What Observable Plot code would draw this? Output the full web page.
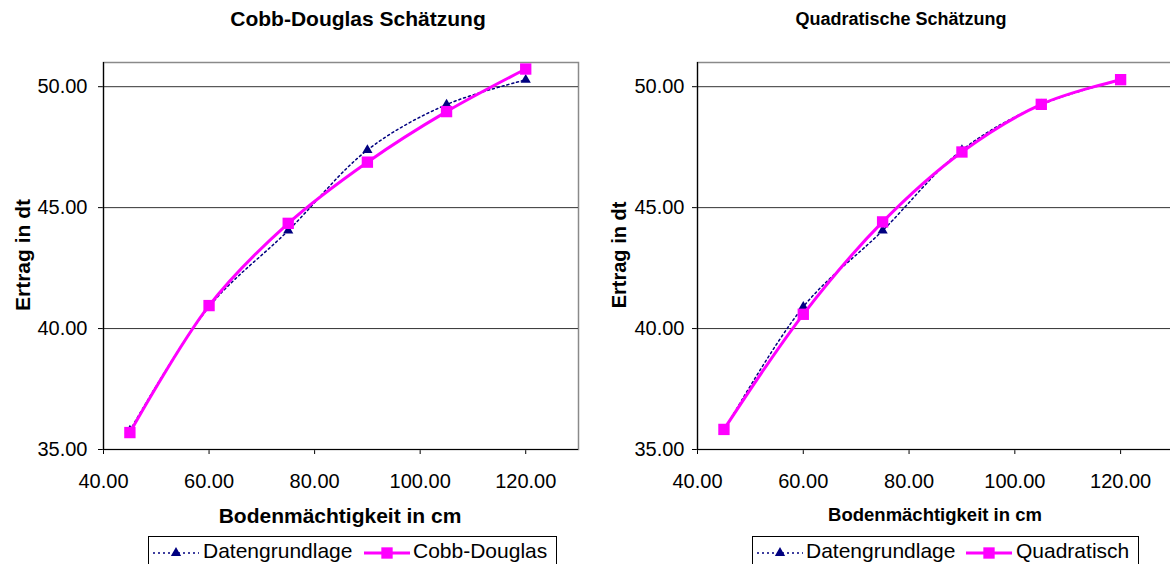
<!DOCTYPE html>
<html>
<head>
<meta charset="utf-8">
<script src="https://cdn.jsdelivr.net/npm/d3@7"></script>
<script src="https://cdn.jsdelivr.net/npm/@observablehq/plot@0.6"></script>
<style>
  body { margin: 0; background: #fff; }
  #page {
    position: relative; width: 1170px; height: 564px; overflow: hidden;
    font-family: "Liberation Sans", Arial, sans-serif; color: #000; background: #fff;
  }
  .abs { position: absolute; white-space: nowrap; line-height: 1; }
  .bold { font-weight: bold; }
  .chart { position: absolute; top: 0; }
  .legend {
    position: absolute; top: 536px; height: 44px; border: 1px solid #000;
    background: #fff; box-sizing: border-box;
  }
  .legend .item { position: absolute; top: 3px; font-size: 21px; line-height: 1; white-space: nowrap; }
  .legend svg { position: absolute; top: 6px; }
</style>
</head>
<body>
<div id="page">
  <div class="abs bold" style="left:358px;top:8px;font-size:21px;transform:translateX(-50%)">Cobb-Douglas Schätzung</div>
  <div class="abs bold" style="left:901px;top:10px;font-size:18px;transform:translateX(-50%)">Quadratische Schätzung</div>

  <div id="left" class="chart" style="left:0px;width:585px"></div>
  <div id="right" class="chart" style="left:585px;width:590px"></div>

  <div class="abs bold" style="left:22px;top:255px;font-size:21px;transform:translate(-50%,-50%) rotate(-90deg)">Ertrag in dt</div>
  <div class="abs bold" style="left:619px;top:255px;font-size:20px;transform:translate(-50%,-50%) rotate(-90deg)">Ertrag in dt</div>

  <div class="abs bold" style="left:340px;top:505px;font-size:21px;transform:translateX(-50%)">Bodenmächtigkeit in cm</div>
  <div class="abs bold" style="left:935px;top:506px;font-size:18.5px;transform:translateX(-50%)">Bodenmächtigkeit in cm</div>

  <div id="legendLeft" class="legend" style="left:148px;width:409px"></div>
  <div id="legendRight" class="legend" style="left:752px;width:387px"></div>
</div>
<script>
// Bodenmächtigkeit (cm) und Ertrag (dt)
const depth = [45, 60, 75, 90, 105, 120];
const observed = [35.78, 40.9, 44.05, 47.38, 49.26, 50.28];
const cobbDouglas = [35.7, 40.95, 44.35, 46.88, 48.97, 50.73];
const quadratic = [35.83, 40.59, 44.41, 47.3, 49.27, 50.29];

const xTicks = [40, 60, 80, 100, 120];
const yTicks = [35, 40, 45, 50];
const gridTicks = [40, 45, 50];
const xDomain = [40, 130];
const yDomain = [35, 51];

const seriesColors = { observed: "#000080", fit: "#ff00ff" };
const markerRadius = { observed: 3.8, fit: 6.4 };
const fmt = d3.format(".2f");

function rows(fit) {
  return depth.map((d, i) => ({ depth: d, observed: observed[i], fit: fit[i] }));
}

function chart(data, { width, marginLeft, marginRight, yPadding }) {
  return Plot.plot({
    width,
    height: 500,
    marginLeft,
    marginRight,
    marginTop: 62,
    marginBottom: 51,
    style: {
      fontFamily: "'Liberation Sans', Arial, sans-serif",
      fontSize: "20px",
      color: "#000",
      background: "transparent",
      overflow: "visible",
      maxWidth: "none"
    },
    x: { domain: xDomain, ticks: xTicks, tickFormat: fmt, label: null, tickSize: 5, tickPadding: 19 },
    y: { domain: yDomain, ticks: yTicks, tickFormat: fmt, label: null, tickSize: 5, tickPadding: yPadding },
    marks: [
      Plot.frame({ stroke: "#8a8a8a", strokeWidth: 1.5 }),
      Plot.ruleY(gridTicks, { stroke: "#333", strokeWidth: 1 }),
      Plot.ruleX([xDomain[0]], { stroke: "#000", strokeWidth: 1.2 }),
      Plot.ruleY([yDomain[0]], { stroke: "#000", strokeWidth: 1.2 }),
      Plot.line(data, {
        x: "depth", y: "observed", stroke: seriesColors.observed,
        strokeWidth: 1.5, strokeDasharray: "2,3", curve: "catmull-rom"
      }),
      Plot.dot(data, { x: "depth", y: "observed", symbol: "triangle", fill: seriesColors.observed, r: markerRadius.observed }),
      Plot.line(data, {
        x: "depth", y: "fit", stroke: seriesColors.fit, strokeWidth: 3, curve: "catmull-rom"
      }),
      Plot.dot(data, { x: "depth", y: "fit", symbol: "square", fill: seriesColors.fit, r: markerRadius.fit })
    ]
  });
}

document.getElementById("left").append(
  chart(rows(cobbDouglas), { width: 585, marginLeft: 103, marginRight: 7, yPadding: 11 })
);
document.getElementById("right").append(
  chart(rows(quadratic), { width: 590, marginLeft: 112, marginRight: 2, yPadding: 8 })
);

// Legend swatches: a short line with the series marker in the middle
function swatch(kind) {
  const ns = "http://www.w3.org/2000/svg";
  const svg = document.createElementNS(ns, "svg");
  svg.setAttribute("width", 46);
  svg.setAttribute("height", 20);
  const line = document.createElementNS(ns, "line");
  line.setAttribute("x1", 0); line.setAttribute("x2", 46);
  line.setAttribute("y1", 10); line.setAttribute("y2", 10);
  if (kind === "observed") {
    line.setAttribute("stroke", seriesColors.observed);
    line.setAttribute("stroke-width", 1.5);
    line.setAttribute("stroke-dasharray", "2,3");
  } else {
    line.setAttribute("stroke", seriesColors.fit);
    line.setAttribute("stroke-width", 3);
  }
  svg.append(line);
  const sym = document.createElementNS(ns, "path");
  const r = markerRadius[kind];
  const path = d3.symbol(kind === "observed" ? d3.symbolTriangle : d3.symbolSquare, Math.PI * r * r)();
  sym.setAttribute("d", path);
  sym.setAttribute("transform", "translate(23,10)");
  sym.setAttribute("fill", seriesColors[kind]);
  svg.append(sym);
  return svg;
}

function legend(el, items) {
  for (const it of items) {
    const s = swatch(it.kind);
    s.style.left = it.swatchLeft + "px";
    el.append(s);
    const t = document.createElement("div");
    t.className = "item";
    t.style.left = it.textLeft + "px";
    t.textContent = it.label;
    el.append(t);
  }
}

legend(document.getElementById("legendLeft"), [
  { kind: "observed", label: "Datengrundlage", swatchLeft: 4, textLeft: 54 },
  { kind: "fit", label: "Cobb-Douglas", swatchLeft: 215, textLeft: 264 }
]);
legend(document.getElementById("legendRight"), [
  { kind: "observed", label: "Datengrundlage", swatchLeft: 4, textLeft: 53 },
  { kind: "fit", label: "Quadratisch", swatchLeft: 213, textLeft: 263 }
]);
</script>
</body>
</html>
